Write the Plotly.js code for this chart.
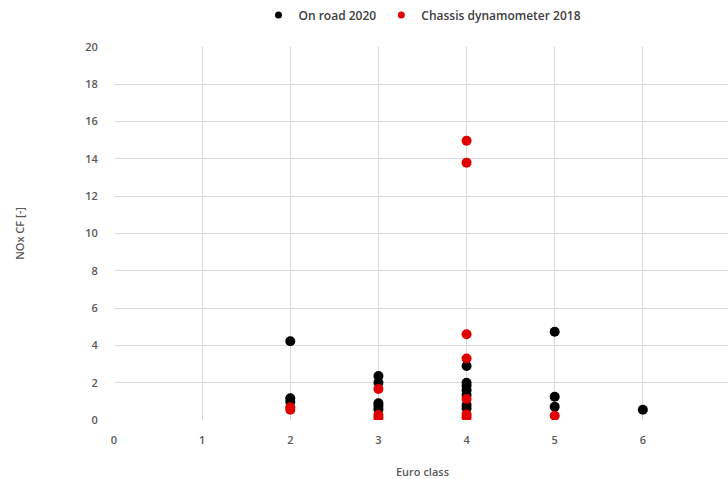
<!DOCTYPE html>
<html>
<head>
<meta charset="utf-8">
<script src="https://cdn.plot.ly/plotly-3.0.1.min.js"></script>
<style>
html,body{margin:0;padding:0;overflow:hidden;background:#fff;}
#chart{width:731px;height:479px;}
</style>
</head>
<body>
<div id="chart"></div>
<script>
// On road 2020
const onRoadEuro = [2, 2, 2, 3, 3, 3, 3, 3, 4, 4, 4, 4, 4, 4, 4, 5, 5, 5, 6];
const onRoadCF   = [4.22, 1.16, 0.98, 2.36, 2.0, 0.9, 0.75, 0.57, 2.9, 2.0, 1.84, 1.6, 1.34, 0.8, 0.63, 4.73, 1.25, 0.71, 0.55];
// Chassis dynamometer 2018
const chassisEuro = [2, 2, 3, 3, 3, 4, 4, 4, 4, 4, 4, 4, 5];
const chassisCF   = [0.68, 0.55, 1.66, 0.27, 0.12, 14.97, 13.8, 4.6, 3.3, 1.13, 0.3, 0.15, 0.23];

const seriesNames = ['On road 2020', 'Chassis dynamometer 2018'];
const seriesColors = ['#000000', '#e00000'];

const xTicks = [0, 1, 2, 3, 4, 5, 6, 7];
const yTicks = [0, 2, 4, 6, 8, 10, 12, 14, 16, 18, 20];

const fontFam = '"Open Sans", "Liberation Sans", sans-serif';

const traces = [
  {
    x: onRoadEuro, y: onRoadCF, type: 'scatter', mode: 'markers',
    name: seriesNames[0], showlegend: false,
    marker: {color: seriesColors[0], size: 10}
  },
  {
    x: chassisEuro, y: chassisCF, type: 'scatter', mode: 'markers',
    name: seriesNames[1], showlegend: false,
    marker: {color: seriesColors[1], size: 10}
  },
  // legend entries (smaller legend markers)
  {
    x: [null], y: [null], type: 'scatter', mode: 'markers',
    name: seriesNames[0], marker: {color: seriesColors[0], size: 7}
  },
  {
    x: [null], y: [null], type: 'scatter', mode: 'markers',
    name: seriesNames[1], marker: {color: seriesColors[1], size: 7}
  }
];

const tickFont = {family: fontFam, size: 11, color: '#595959', weight: 600};

const layout = {
  width: 731, height: 479,
  margin: {l: 114, r: 0, t: 47, b: 59},
  paper_bgcolor: '#ffffff', plot_bgcolor: '#ffffff',
  font: {family: fontFam, size: 11, color: '#595959'},
  showlegend: true,
  legend: {
    orientation: 'h', x: 0.5, xanchor: 'center', y: 1.125, yanchor: 'top',
    font: {family: fontFam, size: 12, color: '#404040', weight: 600},
    itemwidth: 30, tracegroupgap: 0
  },
  xaxis: {
    range: [0, 7], tickvals: xTicks, ticktext: xTicks.map(String),
    showgrid: true, gridcolor: '#d9d9d9', gridwidth: 1,
    zeroline: false, showline: false,
    ticks: 'outside', ticklen: 10, tickcolor: 'rgba(0,0,0,0)',
    tickfont: tickFont,
    title: {text: 'Euro class', font: tickFont, standoff: 22},
    fixedrange: true
  },
  yaxis: {
    range: [0, 20], tickvals: yTicks, ticktext: yTicks.map(String),
    showgrid: true, gridcolor: '#d9d9d9', gridwidth: 1,
    zeroline: false, showline: false,
    ticks: 'outside', ticklen: 13, tickcolor: 'rgba(0,0,0,0)',
    tickfont: tickFont,
    title: {text: 'NOx CF [-]', font: tickFont, standoff: 58},
    fixedrange: true
  }
};

Plotly.newPlot('chart', traces, layout, {displayModeBar: false, staticPlot: true});
</script>
</body>
</html>
